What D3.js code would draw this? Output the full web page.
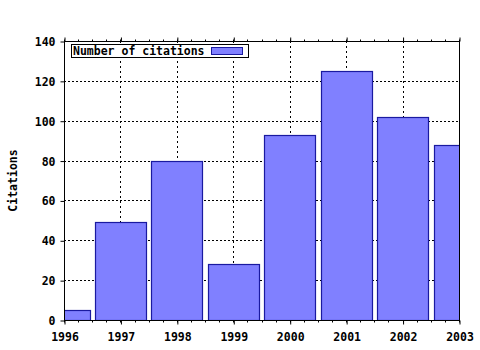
<!DOCTYPE html>
<html>
<head>
<meta charset="utf-8">
<script src="https://cdn.jsdelivr.net/npm/d3@7"></script>
<style>
  body { margin: 0; background: #fff; }
  text { font-family: "DejaVu Sans Mono", "Liberation Mono", monospace; font-weight: bold; font-size: 11.5px; fill: #000; }
</style>
</head>
<body>
<div id="chart"></div>
<script>
const years = [1996, 1997, 1998, 1999, 2000, 2001, 2002, 2003]
const citations = [5, 49, 80, 28, 93, 125, 102, 88]
const yTicks = [0, 20, 40, 60, 80, 100, 120, 140]
const seriesName = 'Number of citations'

const width = 480, height = 350
const margin = { top: 41, right: 21, bottom: 30, left: 64 }
const w = width - margin.left - margin.right
const h = height - margin.top - margin.bottom

const svg = d3.select('#chart').append('svg')
  .attr('width', width).attr('height', height)

const g = svg.append('g').attr('transform', `translate(${margin.left},${margin.top})`)

const x = d3.scaleLinear().domain([1996, 2003]).range([0, w])
const y = d3.scaleLinear().domain([0, 140]).range([h, 0])
const step = x(1997) - x(1996)
const barW = step * 0.9

// grid
g.append('g').selectAll('line').data(yTicks.slice(1, -1)).join('line')
  .attr('x1', 0).attr('x2', w)
  .attr('y1', d => Math.round(y(d)) + 0.5).attr('y2', d => Math.round(y(d)) + 0.5)
  .attr('stroke', '#000').attr('stroke-dasharray', '2,2')
g.append('g').selectAll('line').data(years.slice(1, -1)).join('line')
  .attr('y1', 0).attr('y2', h)
  .attr('x1', d => Math.round(x(d)) + 0.5).attr('x2', d => Math.round(x(d)) + 0.5)
  .attr('stroke', '#000').attr('stroke-dasharray', '2,3')

// bars
svg.append('clipPath').attr('id', 'clip').append('rect')
  .attr('width', w).attr('height', h + 1)
g.append('g').attr('clip-path', 'url(#clip)')
  .selectAll('rect').data(years).join('rect')
  .attr('x', d => Math.round(x(d) - barW / 2) + 0.5)
  .attr('y', (d, i) => Math.round(y(citations[i])) + 0.5)
  .attr('width', Math.round(barW))
  .attr('height', (d, i) => Math.round(h - y(citations[i])))
  .attr('fill', '#8080ff').attr('stroke', '#1a1aa0').attr('stroke-width', 1.2)

// frame
g.append('rect').attr('x', 0.5).attr('y', 0.5).attr('width', w).attr('height', h)
  .attr('fill', 'none').attr('stroke', '#000')

// axes
const minor = d3.range(1996, 2003.01, 0.25)
const xBottom = d3.axisBottom(x).tickValues(years).tickFormat(d3.format('d')).tickSize(4).tickPadding(8)
const xb = g.append('g').attr('transform', `translate(0.5,${h + 0.5})`).call(xBottom)
xb.append('g').selectAll('line').data(minor).join('line')
  .attr('x1', d => Math.round(x(d))).attr('x2', d => Math.round(x(d)))
  .attr('y1', 0).attr('y2', 2).attr('stroke', '#000')
const xt = g.append('g').attr('transform', 'translate(0.5,0.5)')
  .call(d3.axisTop(x).tickValues(years).tickFormat('').tickSize(4))
xt.append('g').selectAll('line').data(minor).join('line')
  .attr('x1', d => Math.round(x(d))).attr('x2', d => Math.round(x(d)))
  .attr('y1', 0).attr('y2', -2).attr('stroke', '#000')
const yl = g.append('g').attr('transform', 'translate(0.5,0.5)')
  .call(d3.axisLeft(y).tickValues(yTicks).tickSize(4).tickPadding(5))

for (const a of [xb, xt, yl]) {
  a.select('.domain').remove()
  a.selectAll('text').attr('font-family', null).attr('font-size', null)
}
yl.selectAll('text').attr('dy', '0.35em')

// y label
svg.append('text')
  .attr('transform', `translate(17,${margin.top + h / 2}) rotate(-90)`)
  .attr('text-anchor', 'middle')
  .text('Citations')

// legend
const lg = g.append('g').attr('transform', 'translate(7,3)')
lg.append('rect').attr('x', 0.5).attr('y', 0.5).attr('width', 177).attr('height', 13)
  .attr('fill', '#fff').attr('stroke', '#000')
lg.append('text').attr('x', 2).attr('y', 10.5).text(seriesName)
lg.append('rect').attr('x', 140.5).attr('y', 3.5).attr('width', 31).attr('height', 7)
  .attr('fill', '#8080ff').attr('stroke', '#1a1aa0')
</script>
</body>
</html>
